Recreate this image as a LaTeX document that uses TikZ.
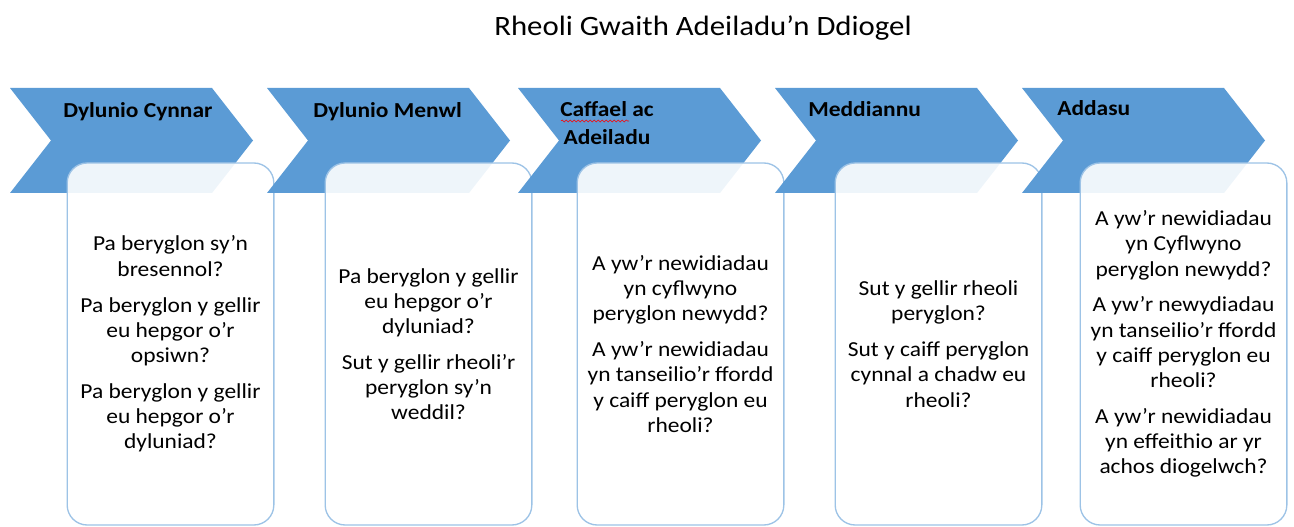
\documentclass[tikz,border=0pt]{standalone}
\usepackage{fontspec}
\setmainfont{Carlito}[FakeStretch=1.1]
\usepackage{tikz}
\usetikzlibrary{decorations.pathmorphing}
\definecolor{chevblue}{HTML}{5B9BD5}
\definecolor{boxline}{HTML}{9DC3E6}
\newcommand{\chevron}[2][]{\fill[chevblue,#1] (#2,88) -- ++(202,0) -- ++(41,52.5) -- ++(-41,52.5) -- ++(-202,0) -- ++(41,-52.5) -- cycle}

\begin{document}
\begin{tikzpicture}[x=0.75pt, y=-0.75pt]
\tikzset{panel/.style={draw=boxline, line width=1pt, rounded corners=15pt, fill=white, fill opacity=0.9, text opacity=1, minimum width=155pt, minimum height=271.5pt, align=center, font=\fontsize{16}{18.9}\selectfont}}
\tikzstyle{stagelabel} = [anchor=base west, inner sep=0pt, align=center, font=\fontsize{16}{21}\selectfont\bfseries]
\useasboundingbox (0,0) rectangle (1294,527);
\node[anchor=base] (title) at (703,36) {\fontsize{21}{24}\selectfont Rheoli Gwaith Adeiladu’n Ddiogel};

\chevron{10};
\node[stagelabel] (c1) at (63,118) {Dylunio Cynnar};
\node[panel] (b1) at (170.5,344) {Pa beryglon sy’n\\ bresennol?\\[8pt] Pa beryglon y gellir\\ eu hepgor o’r\\ opsiwn?\\[8pt] Pa beryglon y gellir\\ eu hepgor o’r\\ dyluniad?};

\chevron{267};
\node[stagelabel] (c2) at (313,118) {Dylunio Menwl};
\node[panel] (b2) at (428.5,344) {Pa beryglon y gellir\\ eu hepgor o’r\\ dyluniad?\\[8pt] Sut y gellir rheoli’r\\ peryglon sy’n\\ weddil?};

\chevron{518};
\node[stagelabel] (c3) at (560,145) {Caffael ac\\ Adeiladu};
\draw[red, decorate, decoration={snake, amplitude=0.8pt, segment length=3pt}] (561,121) -- (629,121);
\node[panel] (b3) at (680.5,344) {A yw’r newidiadau\\ yn cyflwyno\\ peryglon newydd?\\[8pt] A yw’r newidiadau\\ yn tanseilio’r ffordd\\ y caiff peryglon eu\\ rheoli?};

\chevron{775};
\node[stagelabel] (c4) at (808,117) {Meddiannu};
\node[panel] (b4) at (938.5,344) {Sut y gellir rheoli\\ peryglon?\\[8pt] Sut y caiff peryglon\\ cynnal a chadw eu\\ rheoli?};

\chevron{1022};
\node[stagelabel] (c5) at (1057,116) {Addasu};
\node[panel] (b5) at (1183.5,344) {A yw’r newidiadau\\ yn Cyflwyno\\ peryglon newydd?\\[8pt] A yw’r newydiadau\\ yn tanseilio’r ffordd\\ y caiff peryglon eu\\ rheoli?\\[8pt] A yw’r newidiadau\\ yn effeithio ar yr\\ achos diogelwch?};
\end{tikzpicture}
\end{document}
